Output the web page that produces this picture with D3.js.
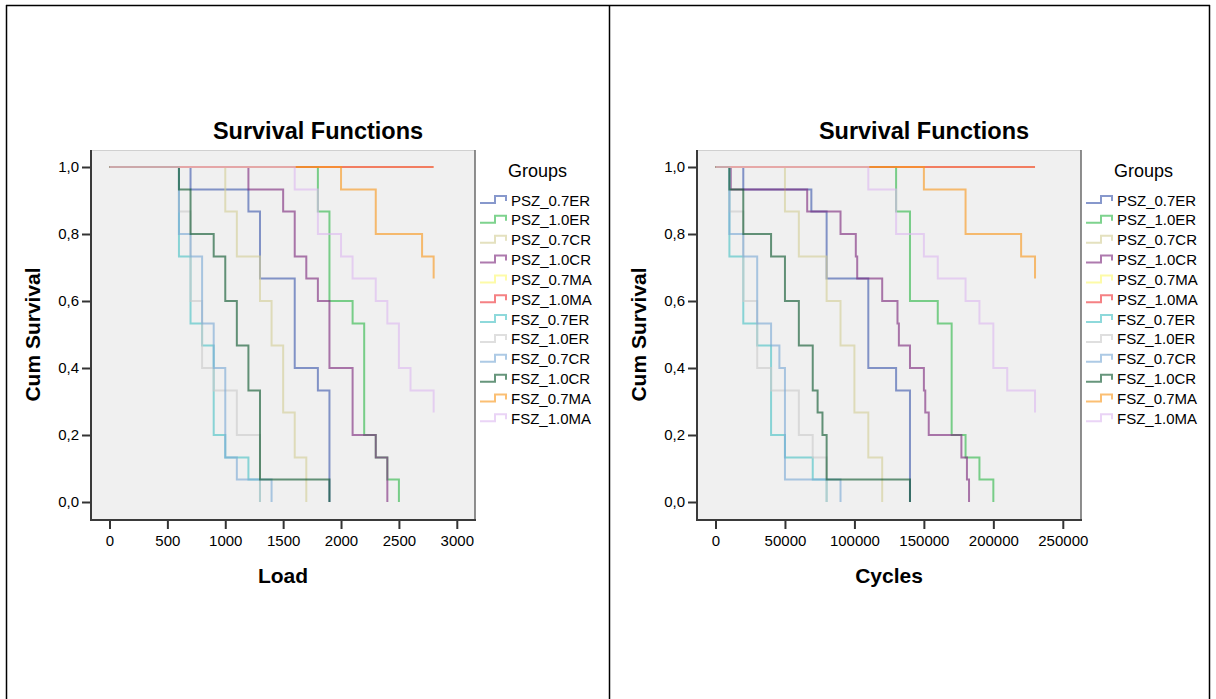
<!DOCTYPE html>
<html>
<head>
<meta charset="utf-8">
<script src="https://cdn.jsdelivr.net/npm/d3@7"></script>
<style>
  body { margin: 0; background: #fff; }
  text { font-family: "Liberation Sans", Arial, sans-serif; fill: #000; }
</style>
</head>
<body>
<div class="canva"></div>
<script>
const groups = ['PSZ_0.7ER', 'PSZ_1.0ER', 'PSZ_0.7CR', 'PSZ_1.0CR', 'PSZ_0.7MA', 'PSZ_1.0MA',
                'FSZ_0.7ER', 'FSZ_1.0ER', 'FSZ_0.7CR', 'FSZ_1.0CR', 'FSZ_0.7MA', 'FSZ_1.0MA'];
const colors = ['#3e58ac', '#2eb848', '#d3ce97', '#7c287d', '#fbf873', '#ef3338',
                '#48c2c5', '#cccccc', '#7aaad5', '#0a562c', '#f8981d', '#ddbaf1'];

// [load, cum survival after the step]
const loadPSZ07ER = [[700, .933], [1200, .867], [1300, .667], [1600, .4], [1800, .333], [1900, 0]];
const loadPSZ10ER = [[1800, .867], [1900, .6], [2100, .533], [2200, .2], [2300, .133], [2400, .067], [2500, 0]];
const loadPSZ07CR = [[1000, .867], [1100, .733], [1300, .6], [1400, .467], [1500, .267], [1600, .133], [1700, 0]];
const loadPSZ10CR = [[1200, .933], [1500, .867], [1600, .733], [1700, .667], [1800, .6], [1900, .4], [2100, .2], [2300, .133], [2400, 0]];
const loadPSZ07MA = [[2800, 1]];
const loadPSZ10MA = [[2800, 1]];
const loadFSZ07ER = [[600, .733], [700, .533], [800, .467], [900, .2], [1000, .133], [1200, .067], [1300, 0]];
const loadFSZ10ER = [[600, .867], [700, .6], [800, .4], [900, .333], [1100, .2], [1300, 0]];
const loadFSZ07CR = [[600, .8], [700, .733], [800, .533], [900, .4], [1000, .133], [1100, .067], [1400, 0]];
const loadFSZ10CR = [[600, .933], [700, .8], [900, .733], [1000, .6], [1100, .467], [1200, .333], [1300, .067], [1900, 0]];
const loadFSZ07MA = [[2000, .933], [2300, .8], [2700, .733], [2800, .667]];
const loadFSZ10MA = [[1600, .933], [1800, .8], [2000, .733], [2100, .667], [2300, .6], [2400, .533], [2500, .4], [2600, .333], [2800, .267]];

// [cycles, cum survival after the step]
const cycPSZ07ER = [[20000, .933], [69000, .867], [80000, .667], [110000, .4], [130000, .333], [140000, 0]];
const cycPSZ10ER = [[130000, .867], [140000, .6], [160000, .533], [170000, .2], [180000, .133], [190000, .067], [200000, 0]];
const cycPSZ07CR = [[50000, .867], [60000, .733], [80000, .6], [90000, .467], [100000, .267], [110000, .133], [120000, 0]];
const cycPSZ10CR = [[11000, .933], [66000, .867], [90000, .8], [101000, .733], [102000, .667], [120000, .6], [131000, .533], [132000, .467],
                    [140000, .4], [150000, .333], [151000, .267], [153500, .2], [177000, .133], [181000, .067], [182500, 0]];
const cycPSZ07MA = [[230000, 1]];
const cycPSZ10MA = [[230000, 1]];
const cycFSZ07ER = [[10000, .733], [20000, .533], [30000, .467], [40000, .2], [50000, .133], [70000, .067], [80000, 0]];
const cycFSZ10ER = [[10000, .867], [20000, .6], [30000, .4], [40000, .333], [60000, .2], [70000, .133], [80000, 0]];
const cycFSZ07CR = [[10000, .8], [20000, .733], [30000, .533], [40000, .467], [46000, .4], [50000, .067], [90000, 0]];
const cycFSZ10CR = [[10000, .933], [20000, .8], [40000, .733], [50000, .6], [60000, .467], [70000, .333], [73500, .267], [77000, .2], [80000, .067], [140000, 0]];
const cycFSZ07MA = [[150000, .933], [180000, .8], [220000, .733], [230000, .667]];
const cycFSZ10MA = [[110000, .933], [130000, .8], [150000, .733], [160000, .667], [180000, .6], [190000, .533], [200000, .4], [210000, .333], [230000, .267]];

const loadTicks = [0, 500, 1000, 1500, 2000, 2500, 3000];
const cycleTicks = [0, 50000, 100000, 150000, 200000, 250000];
const survTicks = [0, 0.2, 0.4, 0.6, 0.8, 1.0];

const loadSeries = [loadPSZ07ER, loadPSZ10ER, loadPSZ07CR, loadPSZ10CR, loadPSZ07MA, loadPSZ10MA,
                    loadFSZ07ER, loadFSZ10ER, loadFSZ07CR, loadFSZ10CR, loadFSZ07MA, loadFSZ10MA];
const cycleSeries = [cycPSZ07ER, cycPSZ10ER, cycPSZ07CR, cycPSZ10CR, cycPSZ07MA, cycPSZ10MA,
                     cycFSZ07ER, cycFSZ10ER, cycFSZ07CR, cycFSZ10CR, cycFSZ07MA, cycFSZ10MA];

const comma = d3.formatLocale({decimal: ',', thousands: '.', grouping: [3], currency: ['', '']});
const fmtSurv = comma.format('.1f');
const font = '"Liberation Sans", Arial, sans-serif';
const lineAlpha = 0.62;

const svg = d3.select('.canva').append('svg')
                .attr('width', 1216)
                .attr('height', 699);

// table cell borders
const border = svg.append('g').attr('stroke', '#000').attr('stroke-width', 1.5);
border.append('line').attr('x1', 6).attr('x2', 1210).attr('y1', 5.5).attr('y2', 5.5);
border.append('line').attr('x1', 6.5).attr('x2', 6.5).attr('y1', 5).attr('y2', 699);
border.append('line').attr('x1', 609.5).attr('x2', 609.5).attr('y1', 5).attr('y2', 699);
border.append('line').attr('x1', 1209.5).attr('x2', 1209.5).attr('y1', 5).attr('y2', 699);

function drawPanel(dx, series, ticks, xTitle) {
    const g = svg.append('g').attr('transform', `translate(${dx}, 0)`);

    const x = d3.scaleLinear()
                .domain([0, d3.max(ticks)])
                .range([109.5, 456.8]);
    const y = d3.scaleLinear()
                .domain([0, 1])
                .range([502, 167]);

    // plot area
    g.append('rect')
        .attr('x', 91).attr('y', 150)
        .attr('width', 384).attr('height', 370)
        .attr('fill', '#f0f0f0');
    g.append('line').attr('x1', 91).attr('x2', 475).attr('y1', 150.5).attr('y2', 150.5)
        .attr('stroke', '#d0d0d0');
    g.append('line').attr('x1', 475).attr('x2', 475).attr('y1', 150).attr('y2', 520)
        .attr('stroke', '#6a6a6a').attr('stroke-width', 1.5);

    const xAxis = d3.axisBottom(x).tickValues(ticks).tickSize(9).tickPadding(6)
                    .tickFormat(d3.format('d'));
    const yAxis = d3.axisLeft(y).tickValues(survTicks).tickSize(9).tickPadding(3)
                    .tickFormat(fmtSurv);

    const xg = g.append('g').attr('transform', 'translate(0, 520)').call(xAxis);
    const yg = g.append('g').attr('transform', 'translate(91, 0)').call(yAxis);
    [xg, yg].forEach(ax => {
        ax.select('.domain').remove();
        ax.attr('font-family', font).attr('font-size', 15);
        ax.selectAll('.tick line').attr('stroke', '#333').attr('stroke-width', 2);
        ax.selectAll('.tick text').attr('fill', '#000');
    });

    // axis lines
    g.append('line').attr('x1', 91).attr('x2', 91).attr('y1', 150).attr('y2', 521)
        .attr('stroke', '#3a3a3a').attr('stroke-width', 2);
    g.append('line').attr('x1', 90).attr('x2', 476).attr('y1', 520).attr('y2', 520)
        .attr('stroke', '#3a3a3a').attr('stroke-width', 2);

    // survival step lines, later groups on top
    const line = d3.line()
                    .x(d => x(d[0]))
                    .y(d => y(d[1]))
                    .curve(d3.curveStepAfter);

    g.selectAll('path.km')
        .data(series)
        .enter().append('path')
        .attr('class', 'km')
        .attr('d', d => line([[0, 1]].concat(d)))
        .attr('fill', 'none')
        .attr('stroke', (d, i) => colors[i])
        .attr('stroke-width', 2)
        .attr('stroke-opacity', lineAlpha);

    // titles
    g.append('text').attr('x', 318).attr('y', 139)
        .attr('text-anchor', 'middle')
        .attr('font-size', 23.5).attr('font-weight', 'bold')
        .text('Survival Functions');
    g.append('text').attr('x', 283).attr('y', 583)
        .attr('text-anchor', 'middle')
        .attr('font-size', 21).attr('font-weight', 'bold')
        .text(xTitle);
    g.append('text')
        .attr('transform', 'translate(32, 334.5) rotate(-90)')
        .attr('text-anchor', 'middle')
        .attr('dominant-baseline', 'central')
        .attr('font-size', 21).attr('font-weight', 'bold')
        .text('Cum Survival');

    // legend
    const legend = g.append('g');
    legend.append('text').attr('x', 508).attr('y', 177)
        .attr('font-size', 18)
        .text('Groups');
    const item = legend.selectAll('g.item')
        .data(groups)
        .enter().append('g')
        .attr('class', 'item')
        .attr('transform', (d, i) => `translate(0, ${200 + i * 19.85})`);
    item.append('path')
        .attr('d', 'M480,3H495V-4H506V1')
        .attr('fill', 'none')
        .attr('stroke', (d, i) => colors[i])
        .attr('stroke-width', 2)
        .attr('stroke-opacity', lineAlpha);
    item.append('text')
        .attr('x', 511)
        .attr('y', 0)
        .attr('dominant-baseline', 'central')
        .attr('font-size', 15)
        .text(d => d);
}

drawPanel(0, loadSeries, loadTicks, 'Load');
drawPanel(606, cycleSeries, cycleTicks, 'Cycles');
</script>
</body>
</html>
